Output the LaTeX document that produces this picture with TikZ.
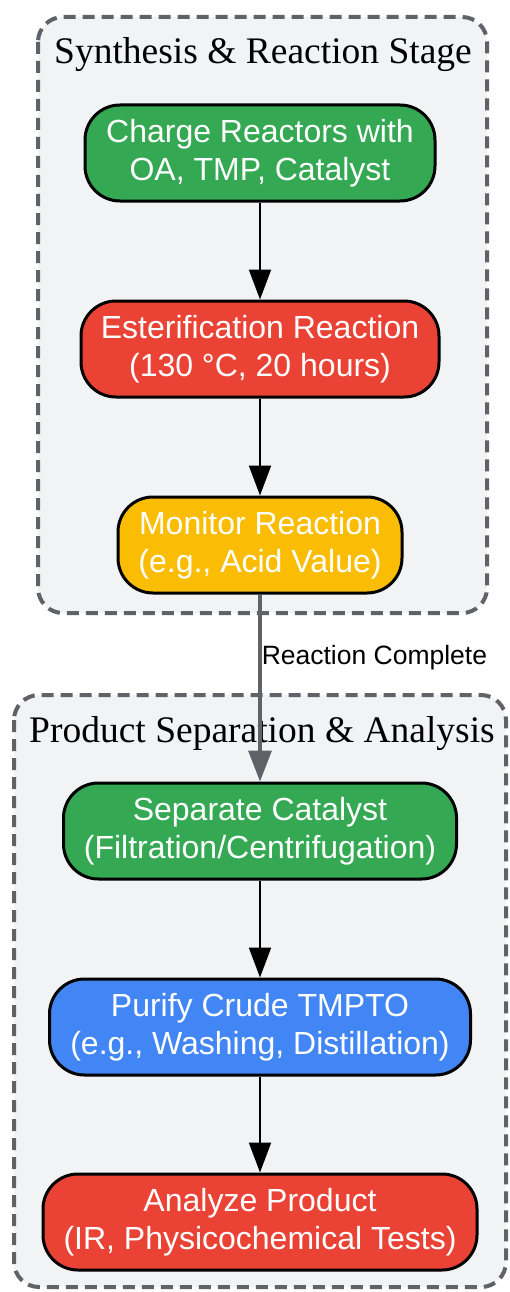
\documentclass[tikz,border=0pt]{standalone}
\usepackage{fontspec}
\setmainfont{Liberation Serif}
\setsansfont{Liberation Sans}
\usetikzlibrary{arrows.meta}

\definecolor{stepgreen}{HTML}{34A853}
\definecolor{stepred}{HTML}{EA4335}
\definecolor{stepyellow}{HTML}{FBBC04}
\definecolor{stepblue}{HTML}{4285F4}
\definecolor{stagefill}{HTML}{F1F3F4}
\definecolor{stagegray}{HTML}{5F6368}

\tikzset{
    stage/.style={draw=stagegray, line width=4pt, dash pattern=on 12pt off 7pt,
        fill=stagefill, rounded corners=25pt},
    stagetitle/.style={anchor=base, font=\fontsize{37.5}{44}\selectfont},
    proc/.style={draw=black, line width=3pt, rounded corners=35pt, text=white,
        align=center, minimum height=96pt, font=\sffamily\fontsize{32}{37.5}\selectfont},
    flow/.style={-{Triangle[length=30pt,width=22pt]}, line width=2pt, black},
}

\begin{document}
\begin{tikzpicture}[x=1pt, y=-1pt]
            \useasboundingbox (0,0) rectangle (509,1292);

            % stage boxes
            \path[stage] (38,17) rectangle (487,613);
            \path[stage] (14,695) rectangle (506,1287);
            \node[stagetitle] (synth) at (263,64) {Synthesis \& Reaction Stage};
            \node[stagetitle] (sep) at (262,742) {Product Separation \& Analysis};

            \begin{scope}[every node/.style={proc}]
                \node[fill=stepgreen, minimum width=350pt] (charge) at (260,153) {Charge Reactors with\\OA, TMP, Catalyst};
                \node[fill=stepred, minimum width=358pt] (ester) at (260,349) {Esterification Reaction\\(130 °C, 20 hours)};
                \node[fill=stepyellow, minimum width=284pt] (monitor) at (260,545) {Monitor Reaction\\(e.g., Acid Value)};
                \node[fill=stepgreen, minimum width=393pt] (catalyst) at (260,831) {Separate Catalyst\\(Filtration/Centrifugation)};
                \node[fill=stepblue, minimum width=421pt] (purify) at (260,1027) {Purify Crude TMPTO\\(e.g., Washing, Distillation)};
                \node[fill=stepred, minimum width=434pt] (analyze) at (260,1222) {Analyze Product\\(IR, Physicochemical Tests)};
            \end{scope}

            \begin{scope}
                \path [flow] (charge) edge (ester);
                \path [flow] (ester) edge (monitor);
                \path [flow, draw=stagegray, fill=stagegray, line width=3.5pt, -{Triangle[length=31pt,width=23pt]}] (monitor) edge
                    node[pos=0.34, anchor=west, inner sep=0pt, text=black,
                         font=\sffamily\fontsize{26.5}{31}\selectfont] (done) {Reaction Complete} (catalyst);
                \path [flow] (catalyst) edge (purify);
                \path [flow] (purify) edge (analyze);
            \end{scope}
\end{tikzpicture}
\end{document}
